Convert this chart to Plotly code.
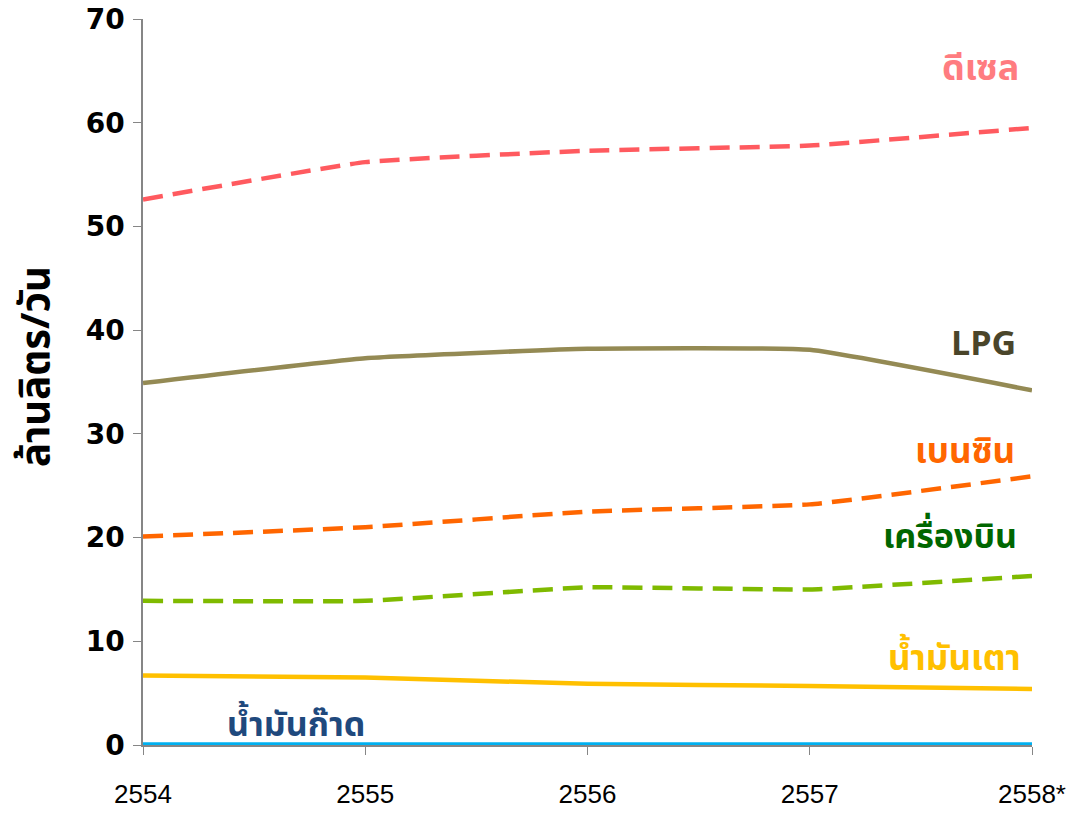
import plotly.graph_objects as go

years = ["2554", "2555", "2556", "2557", "2558*"]
diesel = [52.6, 56.2, 57.3, 57.8, 59.5]
lpg = [34.9, 37.3, 38.2, 38.1, 34.2]
benzin = [20.1, 21.0, 22.5, 23.2, 25.9]
jet = [13.9, 13.9, 15.2, 15.0, 16.3]
fueloil = [6.7, 6.5, 5.9, 5.7, 5.4]
kerosene = [0.05, 0.05, 0.05, 0.05, 0.05]

series = [
    ("ดีเซล", diesel, "#FF5A5F", "20px,10px", "#FF7C80", 3.77, 65.2, 36),
    ("LPG", lpg, "#948A54", "solid", "#4A452A", 3.78, 38.6, 34),
    ("เบนซิน", benzin, "#FF6600", "20px,10px", "#FF6600", 3.70, 28.2, 35),
    ("เครื่องบิน", jet, "#7FBA00", "20px,10px", "#006600", 3.63, 20.0, 34),
    ("น้ำมันเตา", fueloil, "#FFC000", "solid", "#FFC000", 3.65, 8.2, 35),
    ("น้ำมันก๊าด", kerosene, "#00B0F0", "solid", "#1F497D", 0.69, 1.9, 34),
]

W, H = 1068, 813
ML, MR, MT, MB = 143, 36, 19, 68

xs = list(range(len(years)))
fig = go.Figure()
annotations = []
for name, vals, color, dash, lcolor, ax, ay, fs in series:
    fig.add_trace(go.Scatter(
        x=xs, y=vals, mode="lines", name=name,
        line=dict(color=color, width=4.5, dash=dash, shape="spline", smoothing=0.35),
        showlegend=False, hoverinfo="skip"))
    annotations.append(dict(
        x=ax, y=ay, xref="x", yref="y", text=name, showarrow=False,
        font=dict(size=fs, color=lcolor, weight="bold",
                  family="Noto Sans Thai, Noto Sans, sans-serif"),
        xanchor="center", yanchor="middle"))

annotations.append(dict(
    x=(37 - ML) / (W - ML - MR), y=(H - MB - 367) / (H - MT - MB),
    xref="paper", yref="paper",
    text="ล้านลิตร/วัน", showarrow=False, textangle=-90,
    font=dict(size=40, color="black", weight="bold",
              family="Noto Sans Thai, Noto Sans, sans-serif"),
    xanchor="center", yanchor="middle"))

fig.update_layout(
    width=W, height=H,
    margin=dict(l=ML, r=MR, t=MT, b=MB, autoexpand=False),
    paper_bgcolor="white", plot_bgcolor="white",
    annotations=annotations,
    xaxis=dict(
        range=[0, 4], tickmode="array", tickvals=xs, ticktext=years,
        showgrid=False, zeroline=False, showline=True, linecolor="#868686", linewidth=1.5,
        ticks="outside", ticklen=8, tickcolor="#868686", automargin=False,
        ticklabelstandoff=17, ticklabeloverflow="allow",
        tickfont=dict(family="Liberation Sans Narrow, Liberation Sans, sans-serif", size=26, color="black"),
    ),
    yaxis=dict(
        range=[0, 70], tickvals=[0, 10, 20, 30, 40, 50, 60, 70],
        showgrid=False, zeroline=False, showline=True, linecolor="#868686", linewidth=1.5,
        ticks="outside", ticklen=8, tickcolor="#868686", automargin=False,
        ticklabelstandoff=3, ticklabeloverflow="allow",
        tickfont=dict(family="DejaVu Sans", size=28, color="black", weight="bold"),
    ),
)
fig.write_html("out.html", config={"displayModeBar": False},
               post_script="document.body.style.margin='0';")
